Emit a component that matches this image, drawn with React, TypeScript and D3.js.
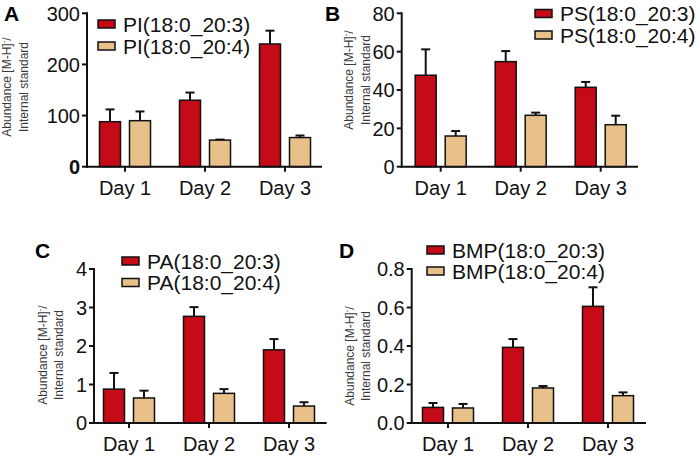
import React from 'react';
import { scaleLinear, scalePoint, scaleBand, format } from 'd3';

// categories
const days = ['Day 1', 'Day 2', 'Day 3'];

// PI panel (A)
const piNames = ['PI(18:0_20:3)', 'PI(18:0_20:4)'];
const pi203 = [88, 130, 240];
const pi203Err = [24, 15, 26];
const pi204 = [90, 52, 57];
const pi204Err = [18, 1, 4];
const piTicks = [0, 100, 200, 300];

// PS panel (B)
const psNames = ['PS(18:0_20:3)', 'PS(18:0_20:4)'];
const ps203 = [47.7, 54.8, 41.4];
const ps203Err = [13.5, 5.5, 2.8];
const ps204 = [16, 26.8, 21.9];
const ps204Err = [2.6, 1.4, 4.7];
const psTicks = [0, 20, 40, 60, 80];

// PA panel (C)
const paNames = ['PA(18:0_20:3)', 'PA(18:0_20:4)'];
const pa203 = [0.88, 2.77, 1.9];
const pa203Err = [0.42, 0.24, 0.28];
const pa204 = [0.65, 0.77, 0.44];
const pa204Err = [0.19, 0.11, 0.1];
const paTicks = [0, 1, 2, 3, 4];

// BMP panel (D)
const bmpNames = ['BMP(18:0_20:3)', 'BMP(18:0_20:4)'];
const bmp203 = [0.081, 0.393, 0.606];
const bmp203Err = [0.023, 0.043, 0.099];
const bmp204 = [0.078, 0.182, 0.142];
const bmp204Err = [0.021, 0.01, 0.017];
const bmpTicks = [0, 0.2, 0.4, 0.6, 0.8];

const RED = '#c50a18';
const TAN = '#e8c089';
const FONT = 'Liberation Sans, Arial, sans-serif';

const Panel = ({ cfg }: { cfg: any }) => {
  const y = scaleLinear().domain([0, cfg.ticks[cfg.ticks.length - 1]]).range([cfg.yBottom, cfg.yTop]);
  const x = scalePoint().domain(days).range([cfg.c0 - 40, cfg.c0 + 200]).padding(0.5);
  const inner = scaleBand().domain(['0', '1']).range([-25.5, 25.5]).paddingInner(0.3);
  const bw = inner.bandwidth();
  const series = [
    { vals: cfg.a, errs: cfg.aErr, color: RED },
    { vals: cfg.b, errs: cfg.bErr, color: TAN },
  ];
  const fmt = cfg.fmt ? format(cfg.fmt) : (d: number) => String(d);

  return (
    <g fontFamily={FONT}>
      <text x={cfg.letterX} y={cfg.letterY} fontSize={21} fontWeight="bold">{cfg.letter}</text>

      {/* y title */}
      <g transform={`translate(${cfg.titleX},${cfg.titleY}) rotate(-90)`} fontSize={12} fill="#3a3a3a" textAnchor="middle">
        <text x={0} y={0} dominantBaseline="central">
          Abundance [M-H]<tspan dy={-4} fontSize={8}>-</tspan><tspan dy={4}>/</tspan>
        </text>
        <text x={0} y={cfg.titleGap} dominantBaseline="central">Internal standard</text>
      </g>

      {/* bars */}
      {series.map((s, si) =>
        days.map((d, i) => {
          const cx = (x(d) as number) + (inner(String(si)) as number) + bw / 2;
          const top = y(s.vals[i]);
          const et = y(s.vals[i] + s.errs[i]);
          return (
            <g key={si + '-' + i}>
              <line x1={cx} x2={cx} y1={top} y2={et} stroke="#111" strokeWidth={2} />
              <line x1={cx - 4.5} x2={cx + 4.5} y1={et} y2={et} stroke="#111" strokeWidth={2} />
              <rect x={cx - bw / 2} y={top} width={bw} height={cfg.yBottom - top} fill={s.color} stroke="#111" strokeWidth={1.5} />
            </g>
          );
        })
      )}

      {/* y axis */}
      <line x1={cfg.axisX} x2={cfg.axisX} y1={cfg.yTop - 1} y2={cfg.yBottom + 1} stroke="#111" strokeWidth={2} />
      {cfg.ticks.map((t: number, i: number) => (
        <g key={'yt' + i}>
          <line x1={cfg.axisX - 5} x2={cfg.axisX} y1={y(t)} y2={y(t)} stroke="#111" strokeWidth={2} />
          <text x={cfg.axisX - 7} y={y(t)} dy="0.36em" textAnchor="end" fontSize={20}
            fontWeight={cfg.boldZero && t === 0 ? 'bold' : 'normal'} fill="#111">{fmt(t)}</text>
        </g>
      ))}

      {/* x axis */}
      <line x1={cfg.axisX - 1} x2={cfg.xEnd} y1={cfg.yBottom} y2={cfg.yBottom} stroke="#111" strokeWidth={2} />
      {days.map((d) => (
        <g key={'xt' + d}>
          <line x1={x(d)} x2={x(d)} y1={cfg.yBottom} y2={cfg.yBottom + 5} stroke="#111" strokeWidth={2} />
          <text x={x(d)} y={cfg.yBottom + 28} textAnchor="middle" fontSize={20} fill="#111">{d}</text>
        </g>
      ))}

      {/* legend */}
      {cfg.names.map((n: string, i: number) => {
        const cy = cfg.legY + i * cfg.legGap;
        return (
          <g key={'lg' + i}>
            <rect x={cfg.legX} y={cy - 4} width={17} height={8} fill={series[i].color} stroke="#111" strokeWidth={1.5} />
            <text x={cfg.legX + 25} y={cy} dy="0.36em" fontSize={21} fill="#111">{n}</text>
          </g>
        );
      })}
    </g>
  );
};

const panels = [
  {
    letter: 'A', letterX: 4, letterY: 21, names: piNames, a: pi203, aErr: pi203Err, b: pi204, bErr: pi204Err,
    ticks: piTicks, axisX: 87, xEnd: 322, yTop: 13.3, yBottom: 166.7, c0: 125, boldZero: true,
    titleX: 7, titleY: 87, titleGap: 16.5, legX: 98, legY: 24, legGap: 22,
  },
  {
    letter: 'B', letterX: 325, letterY: 21, names: psNames, a: ps203, aErr: ps203Err, b: ps204, bErr: ps204Err,
    ticks: psTicks, axisX: 401.7, xEnd: 638, yTop: 13.3, yBottom: 166.7, c0: 440.7,
    titleX: 349, titleY: 80, titleGap: 16.5, legX: 535, legY: 13.5, legGap: 21.5,
  },
  {
    letter: 'C', letterX: 35, letterY: 258, names: paNames, a: pa203, aErr: pa203Err, b: pa204, bErr: pa204Err,
    ticks: paTicks, axisX: 94, xEnd: 326.7, yTop: 269, yBottom: 423, c0: 129,
    titleX: 43, titleY: 355, titleGap: 15.5, legX: 122, legY: 261, legGap: 21.5,
  },
  {
    letter: 'D', letterX: 339, letterY: 258, names: bmpNames, a: bmp203, aErr: bmp203Err, b: bmp204, bErr: bmp204Err,
    ticks: bmpTicks, axisX: 411.7, xEnd: 646, yTop: 269, yBottom: 423, c0: 448, fmt: '.1f',
    titleX: 350, titleY: 356, titleGap: 16, legX: 427, legY: 250, legGap: 21,
  },
];

export default function App() {
  return (
    <svg width={700} height={458} style={{ position: 'absolute', left: 0, top: 0, background: '#fff' }}>
      {panels.map((p) => (
        <Panel key={p.letter} cfg={p} />
      ))}
    </svg>
  );
}
